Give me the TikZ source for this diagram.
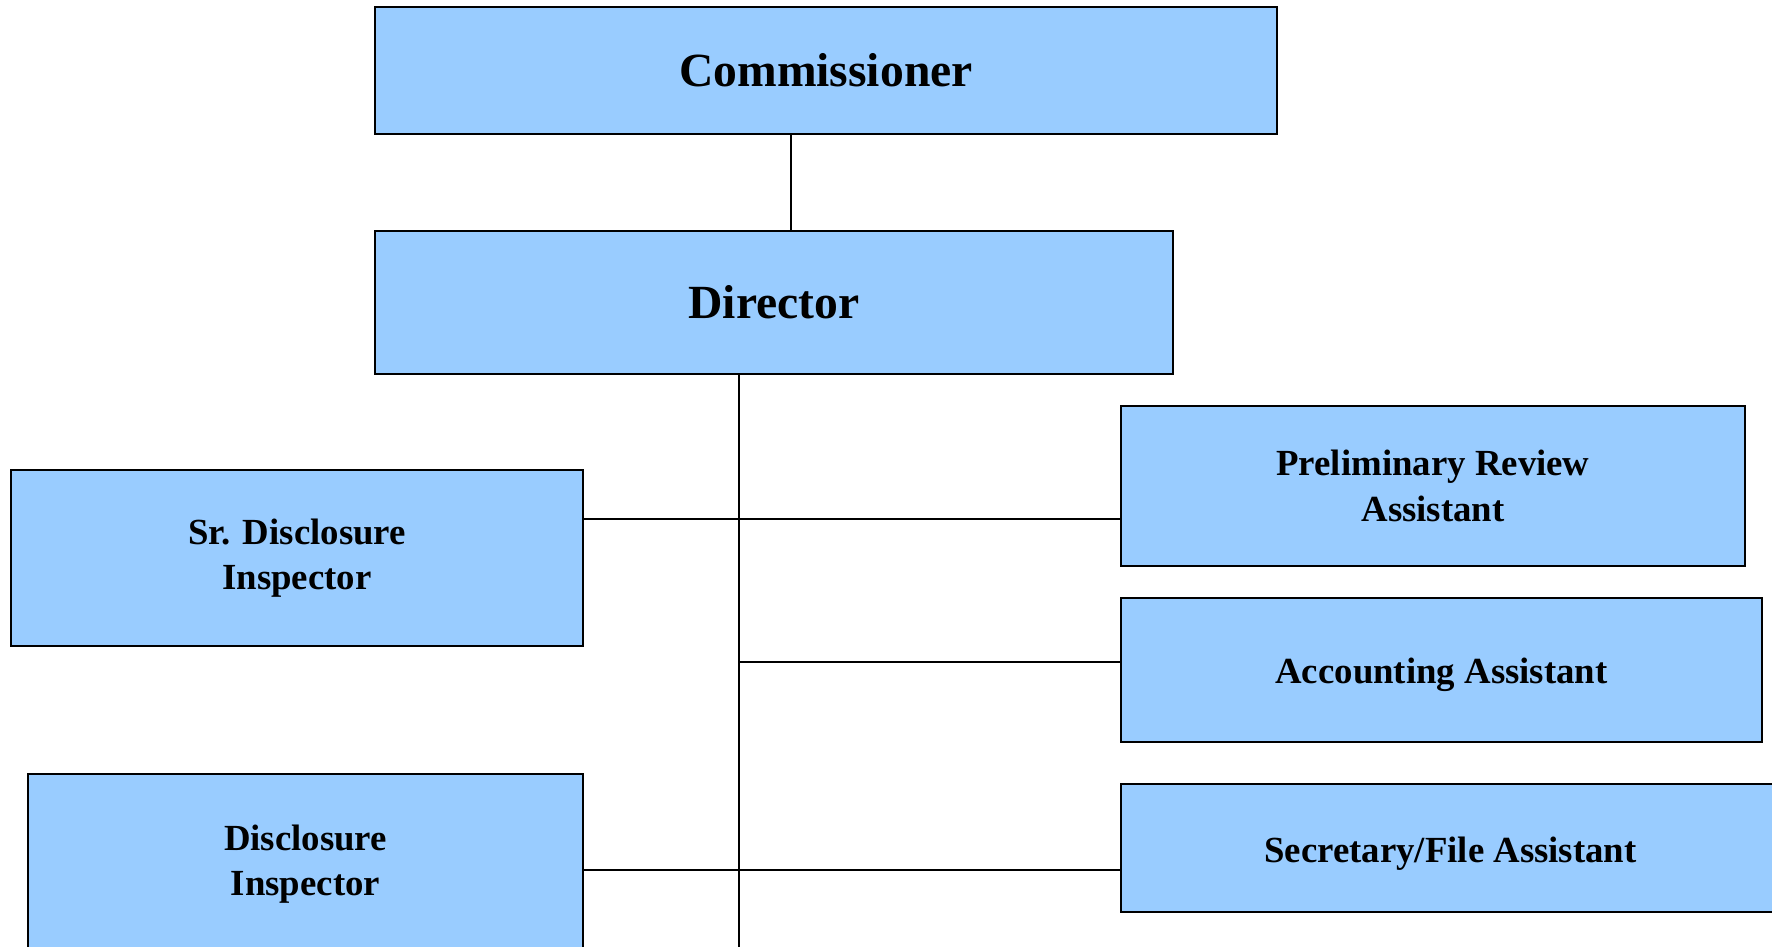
\documentclass[tikz,border=0pt]{standalone}
\usepackage{fontspec}
\setmainfont{Liberation Serif}
\usepackage{tikz}
\definecolor{boxblue}{HTML}{99CCFF}

\begin{document}
\begin{tikzpicture}[x=0.5pt,y=-0.5pt,
  box/.style={draw,line width=1pt,fill=boxblue,inner sep=0pt,align=center},
  post/.style={box,font=\bfseries\fontsize{18.4}{22.6}\selectfont,
    execute at begin node={\rule{0pt}{18pt}}},
  head/.style={box,font=\bfseries\fontsize{23.8}{28}\selectfont},
  link/.style={line width=0.9pt}]
\useasboundingbox (0,0) rectangle (1772,947);
\node[head,minimum width=451pt,minimum height=63.5pt] (comm) at (826,70.5) {Commissioner};
\node[head,minimum width=399pt,minimum height=71.5pt] (dir) at (774,302.5) {Director};
\node[post,minimum width=286pt,minimum height=88pt] (sr) at (297,558) {Sr. Disclosure\\Inspector};
\node[post,minimum width=277.5pt,minimum height=90.5pt] (disc) at (305.5,864.5) {Disclosure\\Inspector};
\node[post,minimum width=312pt,minimum height=80pt] (prelim) at (1433,486) {Preliminary Review\\Assistant};
\node[post,minimum width=320.5pt,minimum height=72pt] (acc) at (1441.5,670) {Accounting Assistant};
\node[post,minimum width=329.5pt,minimum height=64pt] (sec) at (1450.5,848) {Secretary/File Assistant};
\coordinate (top) at (791,0);
\coordinate (trunk) at (739,960);
\coordinate (j1) at (739,519);
\coordinate (j2) at (739,662);
\coordinate (j3) at (739,870);
\draw[link] (comm.south -| top) -- (dir.north -| top);
\draw[link] (dir.south -| trunk) -- (trunk);
\draw[link] (sr.east |- j1) -- (prelim.west |- j1);
\draw[link] (j2) -- (acc.west |- j2);
\draw[link] (disc.east |- j3) -- (sec.west |- j3);
\end{tikzpicture}
\end{document}
